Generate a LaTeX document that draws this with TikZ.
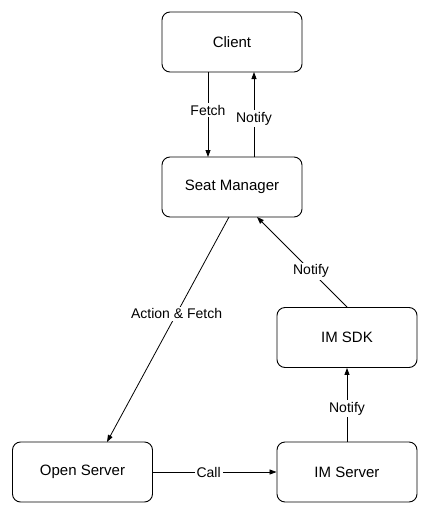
\documentclass[tikz,border=0pt]{standalone}
\usepackage{fontspec}
\setmainfont{Liberation Sans}
\usetikzlibrary{arrows.meta}
\begin{document}
\begin{tikzpicture}[x=1pt,y=-1pt,
  box/.style={draw, rounded corners=8pt, minimum width=140pt, minimum height=60pt, line width=0.9pt, font=\fontsize{15}{17}\selectfont},
  conn/.style={line width=0.8pt, -{Triangle[length=7pt,width=5pt]}},
  lbl/.style={fill=white, inner sep=2pt, font=\fontsize{14}{16}\selectfont}]
\useasboundingbox (0,0) rectangle (429,517);
\node[box] (client) at (232,42) {Client};
\node[box] (seat) at (232,187) {Seat Manager};
\node[box] (sdk) at (347,337.5) {IM SDK};
\node[box] (open) at (82.5,472) {Open Server};
\node[box] (ims) at (347,472) {IM Server};
\coordinate (c1) at (208,72);
\coordinate (s1) at (208,157);
\coordinate (c2) at (254,72);
\coordinate (s2) at (254,157);
\coordinate (s3) at (229,217);
\coordinate (o1) at (107,442);
\coordinate (s4) at (257,217);
\draw[conn] (c1) -- node[lbl, pos=0.45] {Fetch} (s1);
\draw[conn] (s2) -- node[lbl, pos=0.45] {Notify} (c2);
\draw[conn] (s3) -- node[lbl, pos=0.43] {Action \& Fetch} (o1);
\draw[conn] (sdk.north) -- node[lbl, pos=0.4] {Notify} (s4);
\draw[conn] (ims.north) -- node[lbl, pos=0.45] {Notify} (sdk.south);
\draw[conn] (open.east) -- node[lbl, pos=0.45] {Call} (ims.west);
\end{tikzpicture}
\end{document}
